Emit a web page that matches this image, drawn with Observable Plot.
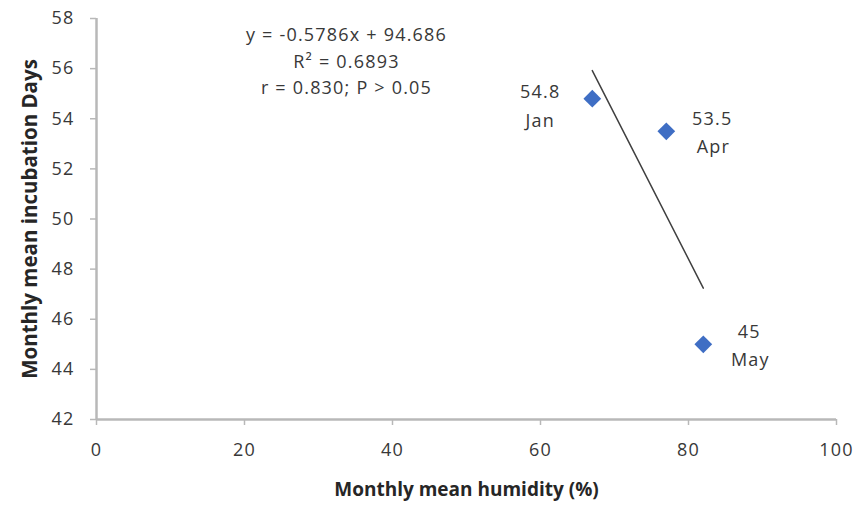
<!DOCTYPE html>
<html>
<head>
<meta charset="utf-8">
<script src="https://cdn.jsdelivr.net/npm/d3@7"></script>
<script src="https://cdn.jsdelivr.net/npm/@observablehq/plot@0.6"></script>
<style>
  html, body { margin: 0; padding: 0; background: #fff; }
  svg { font-family: "Open Sans", "Liberation Sans", sans-serif; }
</style>
</head>
<body>
<div id="chart"></div>
<script>
const months = ["Jan", "Apr", "May"];
const humidity = [67, 77, 82];
const incubation = [54.8, 53.5, 45];
const valueLabels = ["54.8", "53.5", "45"];
const xTicks = [0, 20, 40, 60, 80, 100];
const yTicks = [42, 44, 46, 48, 50, 52, 54, 56, 58];
const equationLines = ["y = -0.5786x + 94.686", "R² = 0.6893", "r = 0.830; P > 0.05"];

const data = months.map((m, i) => ({month: m, x: humidity[i], y: incubation[i], v: valueLabels[i]}));
const left = data.filter(d => d.month === "Jan");
const right = data.filter(d => d.month !== "Jan");

const axisColor = "#b8b8b8";
const textColor = "#383838";

const chart = Plot.plot({
  width: 855,
  height: 508,
  marginLeft: 96,
  marginRight: 19,
  marginTop: 18,
  marginBottom: 89,
  style: {fontSize: "18px", color: textColor, letterSpacing: "1.2px", fontFamily: "'Open Sans', 'Liberation Sans', sans-serif"},
  x: {domain: [0, 100]},
  y: {domain: [42, 58]},
  marks: [
    Plot.axisX({ticks: xTicks, tickSize: 6, tickPadding: 18, stroke: axisColor, strokeWidth: 1.5, fill: textColor,
      label: "Monthly mean humidity (%)", labelAnchor: "center", labelArrow: "none", labelOffset: 76}),
    Plot.axisY({ticks: yTicks, tickSize: 6, tickPadding: 16, stroke: axisColor, strokeWidth: 1.5, fill: textColor,
      label: "Monthly mean incubation Days", labelAnchor: "center", labelArrow: "none", labelOffset: 74}),
    Plot.ruleY([42], {stroke: axisColor, strokeWidth: 2.5}),
    Plot.ruleX([0], {stroke: axisColor, strokeWidth: 2.5}),
    Plot.linearRegressionY(data, {x: "x", y: "y", ci: 0, stroke: "#404040", strokeWidth: 1.5}),
    Plot.dot(data, {x: "x", y: "y", symbol: "diamond2", r: 8, fill: "#3F6EC4", stroke: "none"}),
    Plot.text(left, {x: "x", y: "y", text: "v", dx: -52, dy: -6, fill: textColor, fontSize: 18}),
    Plot.text(left, {x: "x", y: "y", text: "month", dx: -52, dy: 23, fill: textColor, fontSize: 18}),
    Plot.text(right, {x: "x", y: "y", text: "v", dx: 46, dy: -12, fill: textColor, fontSize: 18}),
    Plot.text(right, {x: "x", y: "y", text: "month", dx: 47, dy: 16, fill: textColor, fontSize: 18}),
    Plot.text([equationLines.join("\n")], {frameAnchor: "top", dx: -120, dy: 4, lineAnchor: "top",
      lineHeight: 1.47, fill: textColor, fontSize: 18})
  ]
});

// bold axis titles
chart.querySelectorAll("[aria-label='x-axis label'] text").forEach(t => {
  t.setAttribute("font-weight", "bold");
  t.setAttribute("font-size", "19");
  t.setAttribute("fill", "#262626");
  t.setAttribute("letter-spacing", "0");
});
chart.querySelectorAll("[aria-label='y-axis label'] text").forEach(t => {
  t.setAttribute("font-weight", "bold");
  t.setAttribute("font-size", "20.5");
  t.setAttribute("fill", "#262626");
  t.setAttribute("letter-spacing", "0");
});
document.getElementById("chart").appendChild(chart);
</script>
</body>
</html>
